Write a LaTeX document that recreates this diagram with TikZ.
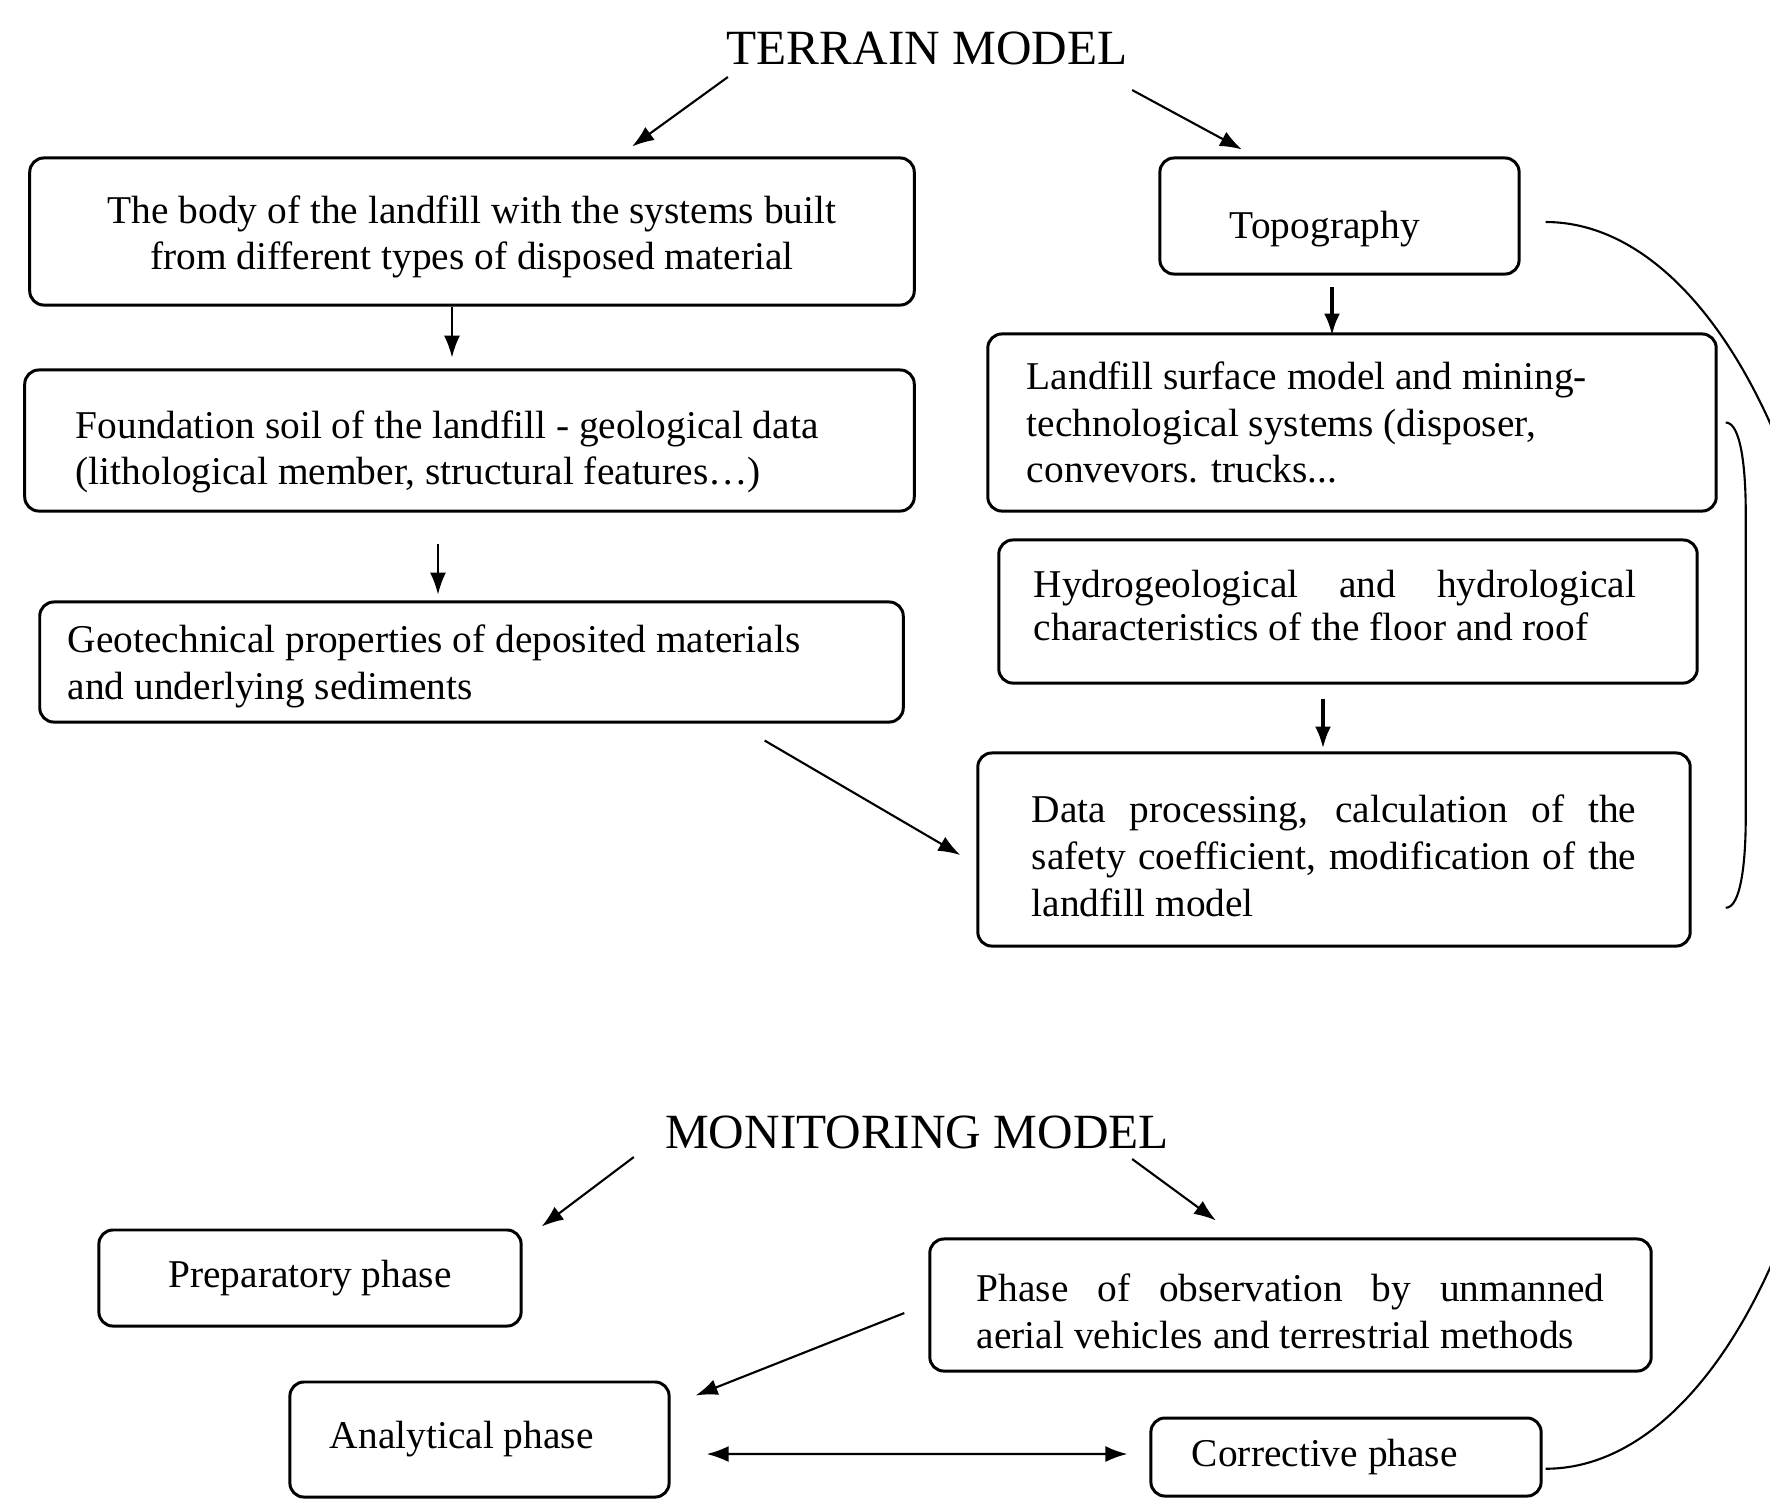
\documentclass[tikz,border=0pt]{standalone}
\usepackage{fontspec}
\setmainfont{Liberation Serif}
\usetikzlibrary{arrows.meta}

\begin{document}
\begin{tikzpicture}[
    x=0.01cm, y=-0.01cm,
    box/.style={rectangle, draw, line width=0.85pt, rounded corners=4pt, inner sep=0pt, font=\fontsize{11.2}{13.3}\selectfont,
        execute at begin node={\spaceskip=0pt\xspaceskip=0pt}},
    heading/.style={inner sep=0pt, font=\fontsize{14}{16}\selectfont},
    arrow/.style={-{Latex[length=2.2mm,width=1.6mm]}, line width=0.6pt},
    boldarrow/.style={arrow, line width=1.1pt},
    twoway/.style={{Latex[length=2.2mm,width=1.6mm]}-{Latex[length=2.2mm,width=1.6mm]}, line width=0.6pt},
    link/.style={line width=0.6pt}
]
    \fill[white] (0,0) rectangle (1770,1499);
    \useasboundingbox (0,0) rectangle (1770,1499);
    \clip (0,0) rectangle (1770,1499);

    % Terrain model
    \node[heading] (terrain) at (927,48) {TERRAIN MODEL};

    % Left column
    \node[box, minimum width=8.84cm, minimum height=1.47cm, text width=8cm, align=center, text height=11pt] (body) at (472,231.5)
        {\mbox{The body of the landfill with the systems built}\\\mbox{from different types of disposed material}};
    \node[box, minimum width=8.89cm, minimum height=1.41cm, text width=7.87cm, align=left, text height=14.4pt] (found) at (469.5,440.5)
        {Foundation soil of the landfill - geological data\\(lithological member, structural features…)};
    \node[box, minimum width=8.63cm, minimum height=1.2cm, text width=8.07cm, align=left, text height=10.2pt] (geo) at (471.5,662)
        {Geotechnical properties of deposited materials\\and underlying sediments};

    % Right column
    \node[box, minimum width=3.59cm, minimum height=1.16cm, text width=2.19cm, align=left, text height=15pt] (topo) at (1339.5,216) {Topography};
    \node[box, minimum width=7.28cm, minimum height=1.77cm, text width=6.5cm, align=left] (surf) at (1352,422.5)
        {Landfill surface model and mining-\\technological systems (disposer,\\convevors. trucks...};
    \node[box, minimum width=6.98cm, minimum height=1.43cm, text width=6.28cm, align=left, text height=4.5pt,
        font=\fontsize{11.2}{12.3}\selectfont] (hydro) at (1348,611.5)
        {\makebox[6.02cm][s]{Hydrogeological and hydrological}\\characteristics of the floor and roof};
    \node[box, minimum width=7.12cm, minimum height=1.93cm, text width=6.04cm, align=left, text height=11.6pt] (data) at (1334,849.5)
        {\makebox[6.04cm][s]{Data processing, calculation of the}\\\makebox[6.04cm][s]{safety coefficient, modification of the}\\landfill model};

    % Monitoring model
    \node[heading] (mon) at (917,1132) {MONITORING MODEL};
    \node[box, minimum width=4.22cm, minimum height=0.96cm] (prep) at (310,1278) {Preparatory phase};
    \node[box, minimum width=7.21cm, minimum height=1.32cm, text width=6.27cm, align=left, text height=11.6pt] (obs) at (1290.5,1305)
        {\makebox[6.27cm][s]{Phase of observation by unmanned}\\aerial vehicles and terrestrial methods};
    \node[box, minimum width=3.79cm, minimum height=1.15cm, text width=2.99cm, align=left] (anal) at (479.5,1439.5) {Analytical phase};
    \node[box, minimum width=3.9cm, minimum height=0.78cm, text width=3.08cm, align=left] (corr) at (1346,1457) {Corrective phase};

    % Terrain arrows
    \draw[arrow] ([shift={(-1.99cm,-0.29cm)}]terrain.center) -- ([shift={(1.6cm,0.1cm)}]body.north);
    \draw[arrow] ([shift={(2.05cm,-0.42cm)}]terrain.center) -- ([shift={(-0.975cm,0.07cm)}]topo.north);
    \draw[arrow] ([xshift=-0.2cm]body.south) -- ++(0,-0.51cm);
    \draw[arrow] ([xshift=-0.315cm,yshift=-0.31cm]found.south) -- ++(0,-0.51cm);
    \draw[boldarrow] ([xshift=-0.075cm,yshift=-0.11cm]topo.south) -- ++(0,-0.49cm);
    \draw[boldarrow] ([xshift=-0.25cm,yshift=-0.14cm]hydro.south) -- ++(0,-0.5cm);
    \draw[arrow] ([shift={(-1.4cm,-0.17cm)}]geo.south east) -- ([shift={(-0.16cm,-0.055cm)}]data.west);

    % Feedback lines
    \draw[link] ([shift={(0.25cm,-0.06cm)}]topo.east) arc[start angle=90, end angle=-90, x radius=3.05cm, y radius=6.23cm];
    \draw[link] ([xshift=0.08cm]surf.east) .. controls +(0.15cm,0) and +(0,0.45cm) .. ++(0.2cm,-0.9cm)
        -- ++(0,-3.05cm) .. controls +(0,-0.45cm) and +(0.15cm,0) .. ++(-0.2cm,-0.9cm);

    % Monitoring arrows
    \draw[arrow] ([shift={(-2.83cm,-0.25cm)}]mon.center) -- ([shift={(0.19cm,0.02cm)}]prep.north east);
    \draw[arrow] ([shift={(2.15cm,-0.27cm)}]mon.center) -- ([shift={(-0.745cm,0.17cm)}]obs.north);
    \draw[arrow] ([shift={(-0.24cm,-0.08cm)}]obs.west) -- ([shift={(0.25cm,-0.15cm)}]anal.north east);
    \draw[twoway] ([shift={(0.36cm,-0.145cm)}]anal.east) -- ([shift={(-0.22cm,0.03cm)}]corr.west);
\end{tikzpicture}
\end{document}
